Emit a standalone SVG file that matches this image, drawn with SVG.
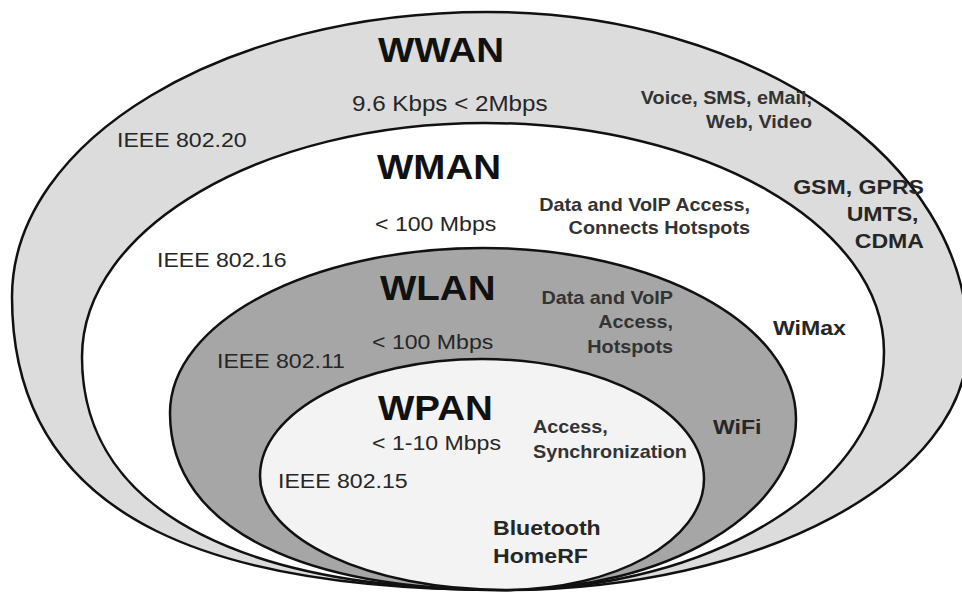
<svg xmlns="http://www.w3.org/2000/svg" width="962" height="592" viewBox="0 0 962 592">
<style>
.sh{stroke:#111;stroke-width:2.5}
text{font-family:"Liberation Sans",Arial,sans-serif;fill:#262626}
.t{font-size:35px;font-weight:bold;fill:#111}
.r{font-size:21px}
.s{font-size:22px}
.b{font-size:21px;font-weight:bold}
.d{font-size:18px;font-weight:bold;fill:#333}
</style>
<rect width="962" height="592" fill="#ffffff"/>
<g id="wwan">
<path class="sh" fill="#dcdcdc" d="M487,12 C752.7,12 968,159.7 968,342 C968,479 760.7,590 505,590 C234,590 12,531 12,297 C12,139.6 224.7,12 487,12 Z"/>
<text class="t" transform="translate(378,62) scale(1.1,1)">WWAN</text>
<text class="s" transform="translate(352,111) scale(1.1,1)">9.6 Kbps &lt; 2Mbps</text>
<text class="r" transform="translate(117,147) scale(1.1,1)">IEEE 802.20</text>
<text class="d" text-anchor="end" transform="translate(812,104) scale(1.1,1)"><tspan x="0" y="0">Voice, SMS, eMail,</tspan><tspan x="0" y="24">Web, Video</tspan></text>
<text class="b" text-anchor="end" transform="translate(924,194) scale(1.1,1)"><tspan x="0" y="0">GSM, GPRS</tspan><tspan x="-5" y="27">UMTS,</tspan><tspan x="0" y="54">CDMA</tspan></text>
</g>
<g id="wman">
<path class="sh" fill="#ffffff" d="M485,123 C705.4,123 884,225.5 884,352 C884,483.4 714.3,590 505,590 C260,590 82,520 82,357 C82,227.8 262.4,123 485,123 Z"/>
<text class="t" transform="translate(377,179) scale(1.1,1)">WMAN</text>
<text class="r" transform="translate(375,231) scale(1.1,1)">&lt; 100 Mbps</text>
<text class="r" transform="translate(157,267) scale(1.1,1)">IEEE 802.16</text>
<text class="d" text-anchor="end" transform="translate(750,211) scale(1.1,1)"><tspan x="0" y="0">Data and VoIP Access,</tspan><tspan x="0" y="23">Connects Hotspots</tspan></text>
<text class="b" transform="translate(773,335) scale(1.1,1)">WiMax</text>
</g>
<g id="wlan">
<path class="sh" fill="#a6a6a6" d="M483,248 C655.9,248 796,324.6 796,419 C796,513.4 665.7,590 505,590 C310.7,590 170,533.4 170,413 C170,321.9 310.1,248 483,248 Z"/>
<text class="t" transform="translate(380,300) scale(1.1,1)">WLAN</text>
<text class="r" transform="translate(372,349) scale(1.1,1)">&lt; 100 Mbps</text>
<text class="r" transform="translate(217,368) scale(1.1,1)">IEEE 802.11</text>
<text class="d" text-anchor="end" transform="translate(673,304) scale(1.1,1)"><tspan x="0" y="0">Data and VoIP</tspan><tspan x="0" y="24">Access,</tspan><tspan x="0" y="49">Hotspots</tspan></text>
<text class="b" transform="translate(713,434) scale(1.1,1)">WiFi</text>
</g>
<g id="wpan">
<path class="sh" fill="#f3f3f3" d="M482,359 C604.6,359 704,412.7 704,479 C704,540.3 614.9,590 505,590 C369.7,590 260,539 260,476 C260,411.4 359.4,359 482,359 Z"/>
<text class="t" transform="translate(378,420) scale(1.1,1)">WPAN</text>
<text class="r" transform="translate(372,450) scale(1.1,1)">&lt; 1-10 Mbps</text>
<text class="r" transform="translate(278,488) scale(1.1,1)">IEEE 802.15</text>
<text class="d" transform="translate(533,433) scale(1.1,1)"><tspan x="0" y="0">Access,</tspan><tspan x="0" y="25">Synchronization</tspan></text>
<text class="b" transform="translate(493,535) scale(1.1,1)"><tspan x="0" y="0">Bluetooth</tspan><tspan x="0" y="28">HomeRF</tspan></text>
</g>
<g id="connectors"/>
</svg>
